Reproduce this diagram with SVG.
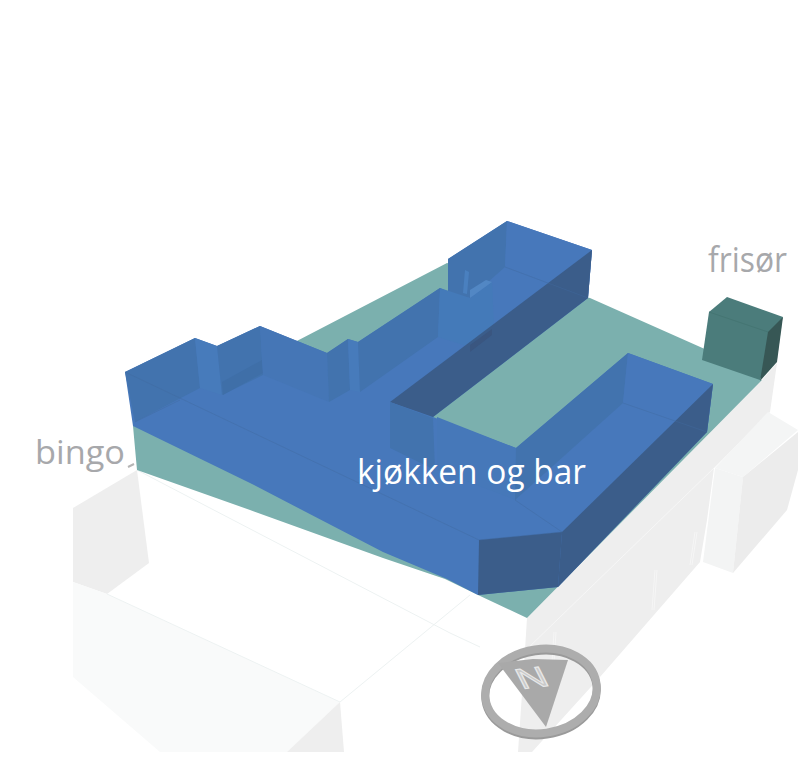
<svg xmlns="http://www.w3.org/2000/svg" width="798" height="759" viewBox="0 0 798 759">
<style>
.lbl{font-family:"Open Sans","Noto Sans",sans-serif}
.g1{fill:#eeeeee}.g3{fill:#f9fafa}.thin{fill:none;stroke:#edf2f2;stroke-width:1}
.floor{fill:#4778bb}.wall{fill:#4273ae}.side{fill:#477bbb}.dark{fill:#3b5d8a}.edge{fill:none;stroke:#41699f;stroke-width:.7;stroke-opacity:.6}
</style>
<rect width="798" height="759" fill="#ffffff"/>
<g id="context-buildings">
<polygon class="g1" points="137,470 73,508 73,582 107,594 149,563"/>
<polygon class="g3" points="73,582 107,594 340,702 287,752 160,752 73,677"/>
<polygon class="g1" points="340,702 344,752 287,752"/>
<polygon class="g1" points="527,618 762,380 777,363 770,412 714,468 707,520 700,562 600,677 532,752 518,752 525,650"/>
<polygon points="768,412 798,430 743,477 715,468" fill="#f4f5f5"/>
<polygon points="715,468 743,477 733,573 703,562" fill="#f3f4f4"/>
<polygon points="743,477 798,432 798,470 787,510 733,573" fill="#ececec"/>
<path class="thin" d="M137,470L450,633M107,594L340,702M340,702L470,595M450,633L480,647"/>
<path d="M526,650L714,468M554,632L552,662M556,632L554,662M655,570L652,610M657,570L654,610M695,532L690,565M697,532L692,565" fill="none" stroke="#f6f6f6" stroke-width="1"/>
<path d="M128,467L134,464" fill="none" stroke="#b5b5b5" stroke-width="2"/>
</g>
<g id="site">
<polygon points="133,426 447,263 590,298 707,350 762,380 527,618 478,595 445,579 383,558 250,510 137,470" fill="#7bb0ae"/>
</g>
<g id="frisor-block">
<polygon points="709,312 727,297 783,317 760,380 702,360" fill="#4b7c7b"/>
<polygon points="783,317 768,332 760,381 777,362" fill="#375755"/>
<path d="M709,312L768,332" fill="none" stroke="#457573" stroke-width="1"/>
</g>
<g id="kitchen-bar-volume">
<polygon class="floor" points="125,372 195,338 217,346 260,326 327,353 348,339 358,342 440,288 448,292 448,259 507,221 592,250 588,298 433,417 516,448 628,353 713,384 707,432 558,587 478,595 447,579 383,552 250,483 133,426"/>
<polygon class="wall" points="125,372 195,338 200,388 135,422"/>
<polygon class="side" points="195,338 217,346 222,395 200,388"/>
<polygon class="wall" points="217,346 260,326 263,375 222,395"/>
<polygon points="222,382 262,360 263,373 223,395" fill="#3f6fa8"/>
<polygon points="260,326 327,353 329,402 263,375" fill="#4576b6"/>
<polygon class="wall" points="327,353 348,339 350,390 329,402"/>
<polygon class="side" points="348,339 358,342 360,392 350,390"/>
<polygon class="wall" points="358,342 440,288 438,337 360,392"/>
<polygon class="wall" points="448,259 507,221 505,267 470,298 448,292"/>
<polygon points="440,288 470,298 492,282 494,327 470,347 438,337" fill="#447ab9"/>
<polygon points="470,298 492,282 486,280 470,290" fill="#5287c4"/>
<polygon points="465,270 463,293 467,294 469,272" fill="#4a80bf"/>
<polygon class="floor" points="507,221 592,250 588,298 505,267"/>
<polygon class="dark" points="592,250 588,298 433,417 390,402"/>
<polygon points="470,345 492,329 492,335 470,352" fill="#3a5680"/>
<polygon class="wall" points="390,402 433,418 435,470 390,448"/>
<polygon points="437,417 516,448 516,500 437,470" fill="#4678b9"/>
<polygon class="wall" points="516,448 628,353 623,403 515,500"/>
<polygon class="floor" points="628,353 713,384 707,432 623,403"/>
<polygon class="dark" points="713,384 707,432 558,587 562,532"/>
<polygon class="dark" points="479,540 562,532 558,587 478,595"/>
<path class="edge" d="M125,372L479,540L562,532M515,500L562,532M623,403L707,432M505,267L588,298M135,422L180,400"/>
</g>
<g id="compass">
<ellipse cx="541" cy="693" rx="56" ry="42" fill="none" stroke="#9a9a9a" stroke-width="8" transform="rotate(-8 541 693)"/>
<ellipse cx="541" cy="691" rx="56" ry="42" fill="none" stroke="#adadad" stroke-width="8" transform="rotate(-8 541 691)"/>
<polygon points="498,663 533,659 568,660 546,727" fill="#a9a9a9"/>
<text x="0" y="0" font-size="29" font-family="'Liberation Sans',sans-serif" fill="#c9c9c9" stroke="#e8e8e8" stroke-width="1" transform="translate(522,689) rotate(-7) skewX(20) scale(1.4,1)">N</text>
</g>
<g id="labels">
<text class="lbl" x="708" y="272" font-size="34" fill="#a7a8ab" textLength="79" lengthAdjust="spacingAndGlyphs">frisør</text>
<text class="lbl" x="35" y="464" font-size="33" fill="#a7a8ab" textLength="90" lengthAdjust="spacingAndGlyphs">bingo</text>
<text class="lbl" x="357" y="484" font-size="35" fill="#ffffff" textLength="229" lengthAdjust="spacingAndGlyphs">kjøkken og bar</text>
</g>
</svg>
